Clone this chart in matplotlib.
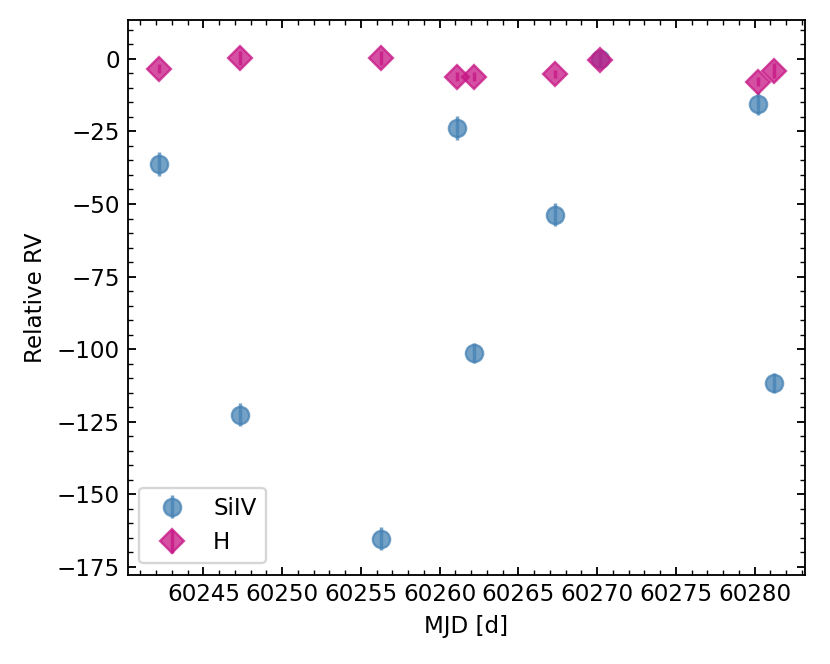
import matplotlib.pyplot as plt

# MJD epochs and relative radial velocities
mjd = [60242.2, 60247.35, 60256.3, 60261.1, 60262.2, 60267.3, 60270.2, 60280.2, 60281.2]
rv_siiv = [-36.2, -122.6, -165.3, -23.8, -101.3, -53.7, 0.0, -15.5, -111.6]
err_siiv = [4.0, 4.0, 4.0, 4.0, 3.5, 4.0, 3.0, 4.0, 3.5]
rv_h = [-3.4, 0.3, 0.3, -6.2, -6.2, -5.2, -0.3, -7.9, -4.1]
err_h = [1.5, 2.5, 2.5, 1.5, 1.5, 1.5, 2.5, 1.5, 2.5]

fig = plt.figure(figsize=(5, 4), dpi=166)
ax = fig.add_axes([0.154, 0.134, 0.816, 0.836])

ax.errorbar(mjd, rv_siiv, yerr=err_siiv, fmt='o', color='#4682b4', alpha=0.75,
            markersize=7.5, label='SiIV')
ax.errorbar(mjd, rv_h, yerr=err_h, fmt='D', color='#c71585', alpha=0.75,
            markersize=7.5, label='H')

ax.set_xlim(60240.2, 60283.2)
ax.set_ylim(-177.8, 13.4)
ax.minorticks_on()
ax.tick_params(which='both', direction='in', top=True, right=True)
ax.set_xlabel('MJD [d]')
ax.set_ylabel('Relative RV')
ax.legend(loc='lower left')

plt.savefig('out.png')
